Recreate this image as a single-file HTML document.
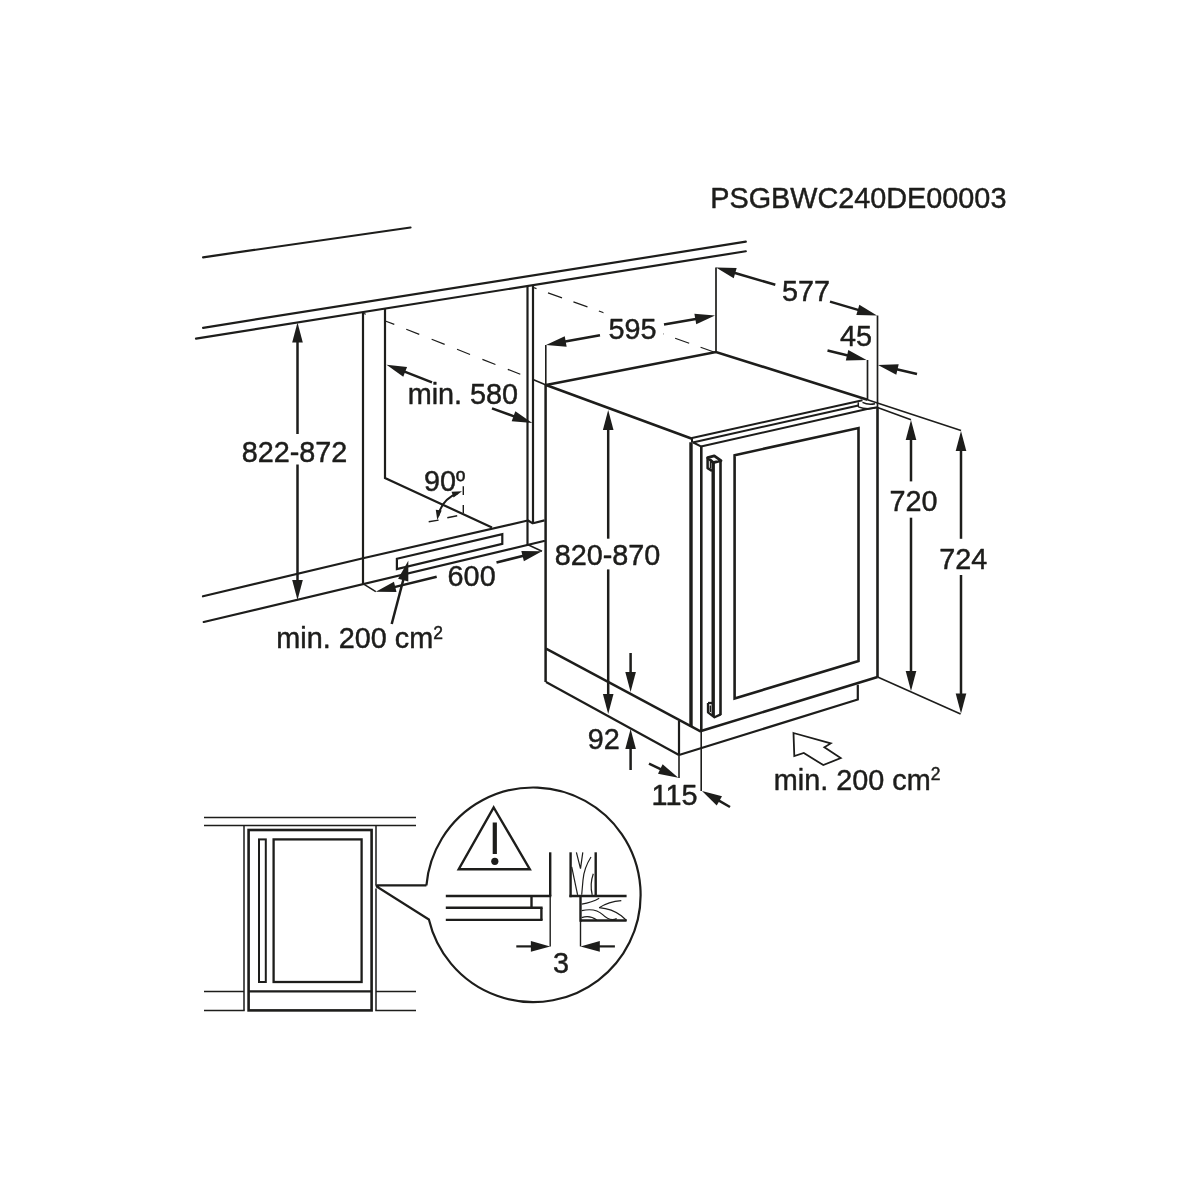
<!DOCTYPE html>
<html><head><meta charset="utf-8"><title>PSGBWC240DE00003</title>
<style>
html,body{margin:0;padding:0;background:#fff;}
svg{display:block;}
text{font-family:"Liberation Sans",sans-serif;fill:#1d1d1b;stroke:#1d1d1b;stroke-width:0.45px;stroke-linejoin:round;}
</style></head>
<body>
<svg width="1200" height="1200" viewBox="0 0 1200 1200" stroke="#1d1d1b" fill="none">
<rect x="0" y="0" width="1200" height="1200" fill="#ffffff" stroke="none"/>
<line x1="203.1" y1="257.3" x2="410.5" y2="227.5" stroke-width="2.2" stroke-linecap="round"/>
<line x1="203.1" y1="327.8" x2="745.8" y2="241.7" stroke-width="2.2" stroke-linecap="round"/>
<line x1="196" y1="338.7" x2="745.8" y2="251.25" stroke-width="2.2" stroke-linecap="round"/>
<path d="M203 596.3 L363 558.3 L526.7 520.8" stroke-width="2.2" fill="none" stroke-linejoin="miter" stroke-linecap="round"/>
<line x1="203.75" y1="622" x2="544" y2="541" stroke-width="2.2" stroke-linecap="round"/>
<line x1="533" y1="523.3" x2="544.5" y2="520.4" stroke-width="2.2" stroke-linecap="butt"/>
<line x1="527.6" y1="520.3" x2="533.2" y2="523.6" stroke-width="2.2" stroke-linecap="butt"/>
<line x1="363" y1="312.6" x2="363" y2="584" stroke-width="2.2" stroke-linecap="butt"/>
<path d="M385 308.7 L385 478 L492 527.5" stroke-width="2.2" fill="none" stroke-linejoin="miter" stroke-linecap="butt"/>
<line x1="527.5" y1="286" x2="527.5" y2="545" stroke-width="2.2" stroke-linecap="butt"/>
<line x1="533" y1="285.5" x2="533" y2="523" stroke-width="2.2" stroke-linecap="butt"/>
<line x1="362.5" y1="313" x2="365.8" y2="314.3" stroke-width="1.2" stroke-linecap="butt"/>
<line x1="385.3" y1="321" x2="394.3" y2="324.4" stroke-width="1.2" stroke-linecap="butt"/>
<line x1="406.25" y1="329.25" x2="520.3" y2="374.3" stroke-width="1.2" stroke-linecap="butt" stroke-dasharray="14 13.3"/>
<line x1="548" y1="292.85" x2="716" y2="352.8" stroke-width="1.2" stroke-linecap="butt" stroke-dasharray="14.9 12.1"/>
<rect x="603.5" y="309" width="60" height="36" fill="#fff" stroke="none"/>
<line x1="533" y1="379.5" x2="546" y2="385" stroke-width="1.5" stroke-linecap="butt"/>
<line x1="533.5" y1="287.5" x2="536.5" y2="288.6" stroke-width="1.2" stroke-linecap="butt"/>
<path d="M396.9 558.8 L502.3 534.2 L502.3 543.8 L396.9 569 Z" stroke-width="2.2" fill="none" stroke-linejoin="miter" stroke-linecap="butt"/>
<polygon points="297.50,322.50 302.80,342.50 292.20,342.50" fill="#1d1d1b" stroke="none"/>
<line x1="297.5" y1="434" x2="297.5" y2="340.5" stroke-width="2.5" stroke-linecap="butt"/>
<polygon points="297.50,600.00 292.20,580.00 302.80,580.00" fill="#1d1d1b" stroke="none"/>
<line x1="297.5" y1="464.5" x2="297.5" y2="582.0" stroke-width="2.5" stroke-linecap="butt"/>
<polygon points="386.50,364.70 407.07,366.97 403.24,376.86" fill="#1d1d1b" stroke="none"/>
<line x1="432" y1="382.3" x2="403.29" y2="371.19" stroke-width="2.5" stroke-linecap="butt"/>
<polygon points="532.30,423.00 511.69,421.13 515.33,411.17" fill="#1d1d1b" stroke="none"/>
<line x1="492" y1="408.3" x2="515.39" y2="416.83" stroke-width="2.5" stroke-linecap="butt"/>
<line x1="463.3" y1="486.2" x2="463.3" y2="495" stroke-width="1.4" stroke-linecap="butt"/>
<line x1="463.3" y1="504.9" x2="463.3" y2="513" stroke-width="1.4" stroke-linecap="butt"/>
<line x1="428.7" y1="521.8" x2="438.6" y2="520.1" stroke-width="1.4" stroke-linecap="butt"/>
<line x1="447.3" y1="517.7" x2="457.2" y2="515.7" stroke-width="1.4" stroke-linecap="butt"/>
<path d="M458 493 Q441.5 499.5 438.2 516" stroke-width="2.0" fill="none" stroke-linejoin="miter" stroke-linecap="butt"/>
<polygon points="462.00,491.30 453.55,497.44 451.57,491.77" fill="#1d1d1b" stroke="none"/>
<polygon points="437.30,520.00 435.76,509.67 441.70,510.53" fill="#1d1d1b" stroke="none"/>
<line x1="362.5" y1="583.3" x2="375.8" y2="591.7" stroke-width="1.5" stroke-linecap="butt"/>
<line x1="528" y1="544.8" x2="542" y2="551.2" stroke-width="1.5" stroke-linecap="butt"/>
<polygon points="375.80,591.70 393.95,581.77 396.49,592.06" fill="#1d1d1b" stroke="none"/>
<line x1="436.7" y1="576.7" x2="393.28" y2="587.4" stroke-width="2.5" stroke-linecap="butt"/>
<polygon points="542.00,551.20 523.87,561.16 521.31,550.88" fill="#1d1d1b" stroke="none"/>
<line x1="496.5" y1="562.5" x2="524.53" y2="555.54" stroke-width="2.5" stroke-linecap="butt"/>
<polygon points="408.30,560.80 408.35,581.49 398.09,578.80" fill="#1d1d1b" stroke="none"/>
<line x1="391.7" y1="624" x2="403.73" y2="578.21" stroke-width="2.5" stroke-linecap="butt"/>
<path d="M546 385 L716 352 L867.5 399.7" stroke-width="2.6" fill="none" stroke-linejoin="miter" stroke-linecap="butt"/>
<path d="M546 385 L692 438.75" stroke-width="2.6" fill="none" stroke-linejoin="miter" stroke-linecap="butt"/>
<line x1="545.8" y1="345" x2="545.8" y2="385" stroke-width="1.6" stroke-linecap="butt"/>
<line x1="545.6" y1="385" x2="545.6" y2="682" stroke-width="2.5" stroke-linecap="butt"/>
<line x1="546" y1="648.6" x2="701" y2="731.6" stroke-width="2.4" stroke-linecap="butt"/>
<line x1="546" y1="682" x2="679" y2="755" stroke-width="2.2" stroke-linecap="butt"/>
<line x1="679" y1="721" x2="679" y2="755" stroke-width="2.2" stroke-linecap="butt"/>
<line x1="679" y1="755" x2="679" y2="778" stroke-width="1.6" stroke-linecap="butt"/>
<path d="M679 755 L857.8 699.5 L857.8 684.7" stroke-width="2.2" fill="none" stroke-linejoin="miter" stroke-linecap="butt"/>
<line x1="692" y1="437.9" x2="862.5" y2="400.3" stroke-width="2.0" stroke-linecap="butt"/>
<line x1="692" y1="437.5" x2="692" y2="442.5" stroke-width="2.0" stroke-linecap="butt"/>
<line x1="692.7" y1="442.5" x2="858.3" y2="405.4" stroke-width="2.0" stroke-linecap="butt"/>
<path d="M701 446.5 L866 409.2 L877.5 407.3" stroke-width="2.1" fill="none" stroke-linejoin="miter" stroke-linecap="butt"/>
<line x1="693.3" y1="442.5" x2="701.3" y2="446.6" stroke-width="2.0" stroke-linecap="butt"/>
<line x1="691" y1="442.2" x2="691" y2="726.5" stroke-width="3.4" stroke-linecap="butt"/>
<line x1="701.3" y1="446.5" x2="701.3" y2="731" stroke-width="2.6" stroke-linecap="butt"/>
<line x1="701.2" y1="731" x2="701.2" y2="791" stroke-width="1.6" stroke-linecap="butt"/>
<line x1="701" y1="731" x2="877.6" y2="677" stroke-width="2.6" stroke-linecap="butt"/>
<line x1="877.5" y1="407.3" x2="877.5" y2="677" stroke-width="2.6" stroke-linecap="butt"/>
<line x1="877.5" y1="315.5" x2="877.5" y2="407.5" stroke-width="1.7" stroke-linecap="butt"/>
<line x1="858.3" y1="402.3" x2="858.3" y2="407" stroke-width="1.5" stroke-linecap="butt"/>
<path d="M862.5 402.3 Q868 405.2 875 403.7" stroke-width="1.4" fill="none" stroke-linejoin="miter" stroke-linecap="butt"/>
<path d="M858.3 406.8 Q867 410.3 877.5 407.3" stroke-width="1.4" fill="none" stroke-linejoin="miter" stroke-linecap="butt"/>
<path d="M734.6 455.2 L858.5 428 L858.5 661 L734.6 698.5 Z" stroke-width="2.6" fill="none" stroke-linejoin="miter" stroke-linecap="butt"/>
<line x1="713.2" y1="462" x2="713.2" y2="716" stroke-width="3.4" stroke-linecap="butt"/>
<line x1="720.5" y1="461" x2="720.5" y2="715" stroke-width="2.6" stroke-linecap="butt"/>
<path d="M707.6 457.6 L714.3 455.9 L721 460.6 L713.3 462.6 Z" stroke-width="2.8" fill="none" stroke-linejoin="round" stroke-linecap="butt"/>
<path d="M707.6 457.6 L707.6 468.2 L712 470.8" stroke-width="2.5" fill="none" stroke-linejoin="round" stroke-linecap="butt"/>
<line x1="710.5" y1="461.5" x2="710.5" y2="468.5" stroke-width="1.5" stroke-linecap="butt"/>
<path d="M708 703 L708 712.3 L714.5 717.3 L720.8 714.4" stroke-width="2.3000000000000003" fill="none" stroke-linejoin="round" stroke-linecap="butt"/>
<path d="M712 703 L708 703" stroke-width="2.3000000000000003" fill="none" stroke-linejoin="miter" stroke-linecap="butt"/>
<line x1="710.3" y1="705.5" x2="710.3" y2="712" stroke-width="1.5" stroke-linecap="butt"/>
<line x1="716" y1="267.5" x2="716" y2="352.5" stroke-width="1.7" stroke-linecap="butt"/>
<polygon points="546.00,345.00 564.75,336.25 566.62,346.68" fill="#1d1d1b" stroke="none"/>
<line x1="600" y1="335.3" x2="563.72" y2="341.82" stroke-width="2.5" stroke-linecap="butt"/>
<polygon points="715.00,315.50 696.24,324.23 694.38,313.80" fill="#1d1d1b" stroke="none"/>
<line x1="664" y1="324.6" x2="697.28" y2="318.66" stroke-width="2.5" stroke-linecap="butt"/>
<polygon points="716.00,267.50 736.68,268.01 733.72,278.19" fill="#1d1d1b" stroke="none"/>
<line x1="775.3" y1="284.8" x2="733.28" y2="272.54" stroke-width="2.5" stroke-linecap="butt"/>
<polygon points="877.00,315.50 856.32,314.91 859.32,304.75" fill="#1d1d1b" stroke="none"/>
<line x1="830" y1="301.6" x2="859.74" y2="310.4" stroke-width="2.5" stroke-linecap="butt"/>
<line x1="867.5" y1="360" x2="867.5" y2="400" stroke-width="1.7" stroke-linecap="butt"/>
<polygon points="866.50,360.00 845.81,360.42 848.32,350.12" fill="#1d1d1b" stroke="none"/>
<line x1="827.5" y1="350.5" x2="849.01" y2="355.74" stroke-width="2.5" stroke-linecap="butt"/>
<polygon points="878.00,365.00 898.68,364.33 896.30,374.66" fill="#1d1d1b" stroke="none"/>
<line x1="917" y1="374" x2="895.54" y2="369.05" stroke-width="2.5" stroke-linecap="butt"/>
<line x1="867.5" y1="399.7" x2="961" y2="430.4" stroke-width="1.6" stroke-linecap="butt"/>
<line x1="877.5" y1="407.4" x2="911" y2="419.8" stroke-width="1.6" stroke-linecap="butt"/>
<line x1="877.6" y1="677" x2="960.6" y2="714" stroke-width="1.6" stroke-linecap="butt"/>
<polygon points="911.00,420.00 916.30,440.00 905.70,440.00" fill="#1d1d1b" stroke="none"/>
<line x1="911" y1="481.4" x2="911.0" y2="438.0" stroke-width="2.5" stroke-linecap="butt"/>
<polygon points="911.00,691.00 905.70,671.00 916.30,671.00" fill="#1d1d1b" stroke="none"/>
<line x1="911" y1="517.7" x2="911.0" y2="673.0" stroke-width="2.5" stroke-linecap="butt"/>
<polygon points="961.00,431.00 966.30,451.00 955.70,451.00" fill="#1d1d1b" stroke="none"/>
<line x1="961" y1="538.8" x2="961.0" y2="449.0" stroke-width="2.5" stroke-linecap="butt"/>
<polygon points="961.00,713.60 955.70,693.60 966.30,693.60" fill="#1d1d1b" stroke="none"/>
<line x1="961" y1="575" x2="961.0" y2="695.6" stroke-width="2.5" stroke-linecap="butt"/>
<polygon points="608.20,410.00 613.50,430.00 602.90,430.00" fill="#1d1d1b" stroke="none"/>
<line x1="608.2" y1="538.7" x2="608.2" y2="428.0" stroke-width="2.5" stroke-linecap="butt"/>
<polygon points="608.20,714.00 602.90,694.00 613.50,694.00" fill="#1d1d1b" stroke="none"/>
<line x1="608.2" y1="569.4" x2="608.2" y2="696.0" stroke-width="2.5" stroke-linecap="butt"/>
<polygon points="630.60,692.00 625.30,672.00 635.90,672.00" fill="#1d1d1b" stroke="none"/>
<line x1="630.6" y1="653" x2="630.6" y2="674.0" stroke-width="2.5" stroke-linecap="butt"/>
<polygon points="630.60,729.00 635.90,749.00 625.30,749.00" fill="#1d1d1b" stroke="none"/>
<line x1="630.6" y1="770" x2="630.6" y2="747.0" stroke-width="2.5" stroke-linecap="butt"/>
<polygon points="678.30,777.80 657.99,773.85 662.61,764.31" fill="#1d1d1b" stroke="none"/>
<line x1="649" y1="763.6" x2="662.1" y2="769.95" stroke-width="2.5" stroke-linecap="butt"/>
<polygon points="702.00,791.00 721.99,796.32 716.74,805.52" fill="#1d1d1b" stroke="none"/>
<line x1="730" y1="807" x2="717.63" y2="799.93" stroke-width="2.5" stroke-linecap="butt"/>
<path d="M793.5 733 L830.7 743.4 L824.4 747.2 L840.7 758 L823.3 765.1 L803.8 752.9 L794.3 756.1 Z" stroke-width="1.8" fill="none" stroke-linejoin="miter" stroke-linecap="butt"/>
<line x1="204" y1="817.6" x2="416" y2="817.6" stroke-width="1.5" stroke-linecap="butt"/>
<line x1="204" y1="825.6" x2="416" y2="825.6" stroke-width="1.5" stroke-linecap="butt"/>
<line x1="244" y1="825.6" x2="244" y2="1010.4" stroke-width="1.5" stroke-linecap="butt"/>
<line x1="376" y1="825.6" x2="376" y2="884.6" stroke-width="1.5" stroke-linecap="butt"/>
<line x1="376" y1="888.5" x2="376" y2="1010.4" stroke-width="1.5" stroke-linecap="butt"/>
<line x1="204" y1="991.4" x2="244" y2="991.4" stroke-width="1.5" stroke-linecap="butt"/>
<line x1="376" y1="991.4" x2="416" y2="991.4" stroke-width="1.5" stroke-linecap="butt"/>
<line x1="204" y1="1010.4" x2="244.7" y2="1010.4" stroke-width="1.5" stroke-linecap="butt"/>
<line x1="375.3" y1="1010.4" x2="416" y2="1010.4" stroke-width="1.5" stroke-linecap="butt"/>
<rect x="248.6" y="830" width="123" height="180.4" fill="none" stroke-width="2.6"/>
<line x1="248.6" y1="991.4" x2="371.6" y2="991.4" stroke-width="2.4" stroke-linecap="butt"/>
<rect x="259" y="839.4" width="6.8" height="142.6" fill="none" stroke-width="2"/>
<rect x="273.6" y="839.4" width="88" height="142.6" fill="none" stroke-width="2.3"/>
<path d="M426.41 885.4 A107.3 107.3 0 1 1 428.88 919.5 L377 886.8 L376.5 885.4 L426.41 885.4" stroke-width="2.2" fill="none" stroke-linejoin="miter" stroke-linecap="butt"/>
<path d="M493.7 807.5 L529.8 869.2 L458.7 869.2 Z" stroke-width="2.4000000000000004" fill="none" stroke-linejoin="miter" stroke-linecap="butt"/>
<line x1="494.8" y1="822.5" x2="494.8" y2="854" stroke-width="4.2" stroke-linecap="butt"/>
<circle cx="494.8" cy="861.3" r="3.6" fill="#1d1d1b" stroke="none"/>
<line x1="445.8" y1="896" x2="551.3" y2="896" stroke-width="2.4" stroke-linecap="butt"/>
<line x1="445.8" y1="907.7" x2="542.6" y2="907.7" stroke-width="2.4" stroke-linecap="butt"/>
<line x1="445.8" y1="919.9" x2="542.6" y2="919.9" stroke-width="2.4" stroke-linecap="butt"/>
<line x1="531.5" y1="896" x2="531.5" y2="907.7" stroke-width="2.4" stroke-linecap="butt"/>
<line x1="541.4" y1="907.7" x2="541.4" y2="919.9" stroke-width="2.4" stroke-linecap="butt"/>
<line x1="550.2" y1="852.3" x2="550.2" y2="896" stroke-width="2.4" stroke-linecap="butt"/>
<line x1="550.2" y1="896" x2="550.2" y2="946.4" stroke-width="1.4" stroke-linecap="butt"/>
<line x1="570.6" y1="852.3" x2="570.6" y2="897.2" stroke-width="2.4" stroke-linecap="butt"/>
<line x1="595.7" y1="852.3" x2="595.7" y2="896" stroke-width="2.4" stroke-linecap="butt"/>
<line x1="569.4" y1="896" x2="626.6" y2="896" stroke-width="2.4" stroke-linecap="butt"/>
<line x1="580.5" y1="896" x2="580.5" y2="921.7" stroke-width="2.4" stroke-linecap="butt"/>
<line x1="580.5" y1="921" x2="580.5" y2="946.4" stroke-width="1.4" stroke-linecap="butt"/>
<line x1="580.5" y1="920.5" x2="626.6" y2="920.5" stroke-width="2.4" stroke-linecap="butt"/>
<path d="M571.7 866.8 Q574.7 880.8 577.6 894.8" stroke-width="1.2" fill="none" stroke-linejoin="miter" stroke-linecap="butt"/>
<path d="M576.4 852.3 L580.5 868.6 L582.8 852.3" stroke-width="1.2" fill="none" stroke-linejoin="miter" stroke-linecap="butt"/>
<path d="M591 857 Q584 868 583 880 L581.7 894.8" stroke-width="1.2" fill="none" stroke-linejoin="miter" stroke-linecap="butt"/>
<path d="M593.3 873.8 Q589.6 884.3 592.2 894.8" stroke-width="1.2" fill="none" stroke-linejoin="miter" stroke-linecap="butt"/>
<path d="M581.7 904.2 Q592.2 902.4 599.2 898.3" stroke-width="1.2" fill="none" stroke-linejoin="miter" stroke-linecap="butt"/>
<path d="M599.2 907.7 Q608.5 901.8 621.3 900.7" stroke-width="1.2" fill="none" stroke-linejoin="miter" stroke-linecap="butt"/>
<path d="M599.2 907.7 Q612 908.8 621.3 915.8 L626.6 920.5" stroke-width="1.2" fill="none" stroke-linejoin="miter" stroke-linecap="butt"/>
<path d="M581.7 910.6 Q595.7 907.7 602.7 914.7 T616.7 918.6" stroke-width="1.2" fill="none" stroke-linejoin="miter" stroke-linecap="butt"/>
<path d="M581.7 917.6 Q589.8 914.7 596.8 920" stroke-width="1.2" fill="none" stroke-linejoin="miter" stroke-linecap="butt"/>
<polygon points="550.20,946.40 530.90,951.70 530.90,941.10" fill="#1d1d1b" stroke="none"/>
<line x1="516.3" y1="946.4" x2="532.83" y2="946.4" stroke-width="2.2" stroke-linecap="butt"/>
<polygon points="580.50,946.40 599.80,941.10 599.80,951.70" fill="#1d1d1b" stroke="none"/>
<line x1="614.9" y1="946.4" x2="597.87" y2="946.4" stroke-width="2.2" stroke-linecap="butt"/>
<g opacity="0.999">
<text transform="translate(241.7 462) scale(1 1.04)" font-size="28.8" text-anchor="start" >822-872</text>
<text transform="translate(407.7 404) scale(1 1.04)" font-size="28.8" text-anchor="start" >min. 580</text>
<text transform="translate(424 490.6) scale(1 1.04)" font-size="28.8" text-anchor="start" >90<tspan font-size="25" dy="-1.5">&#186;</tspan></text>
<text transform="translate(447.6 585.5) scale(1 1.04)" font-size="28.8" text-anchor="start" >600</text>
<text transform="translate(276.3 648.3) scale(1 1.04)" font-size="28.8" text-anchor="start" >min. 200 cm<tspan font-size="17.5" dy="-9.4">2</tspan></text>
<text transform="translate(632.5 339.3) scale(1 1.04)" font-size="28.8" text-anchor="middle" >595</text>
<text transform="translate(806 301.4) scale(1 1.04)" font-size="28.8" text-anchor="middle" >577</text>
<text transform="translate(840 346) scale(1 1.04)" font-size="28.8" text-anchor="start" >45</text>
<text transform="translate(889.5 511) scale(1 1.04)" font-size="28.8" text-anchor="start" >720</text>
<text transform="translate(939.3 569) scale(1 1.04)" font-size="28.8" text-anchor="start" >724</text>
<text transform="translate(554.7 565) scale(1 1.04)" font-size="28.8" text-anchor="start" >820-870</text>
<text transform="translate(587.7 748.7) scale(1 1.04)" font-size="28.8" text-anchor="start" >92</text>
<text transform="translate(651.6 804.7) scale(1 1.04)" font-size="28.8" text-anchor="start" >115</text>
<text transform="translate(773.8 790) scale(1 1.04)" font-size="28.8" text-anchor="start" >min. 200 cm<tspan font-size="17.5" dy="-9.4">2</tspan></text>
<text transform="translate(710.3 208.5) scale(1 1.04)" font-size="28.8" text-anchor="start" >PSGBWC240DE00003</text>
<text transform="translate(553 973.3) scale(1 1.04)" font-size="28.8" text-anchor="start" >3</text>
</g>
</svg>
</body></html>
